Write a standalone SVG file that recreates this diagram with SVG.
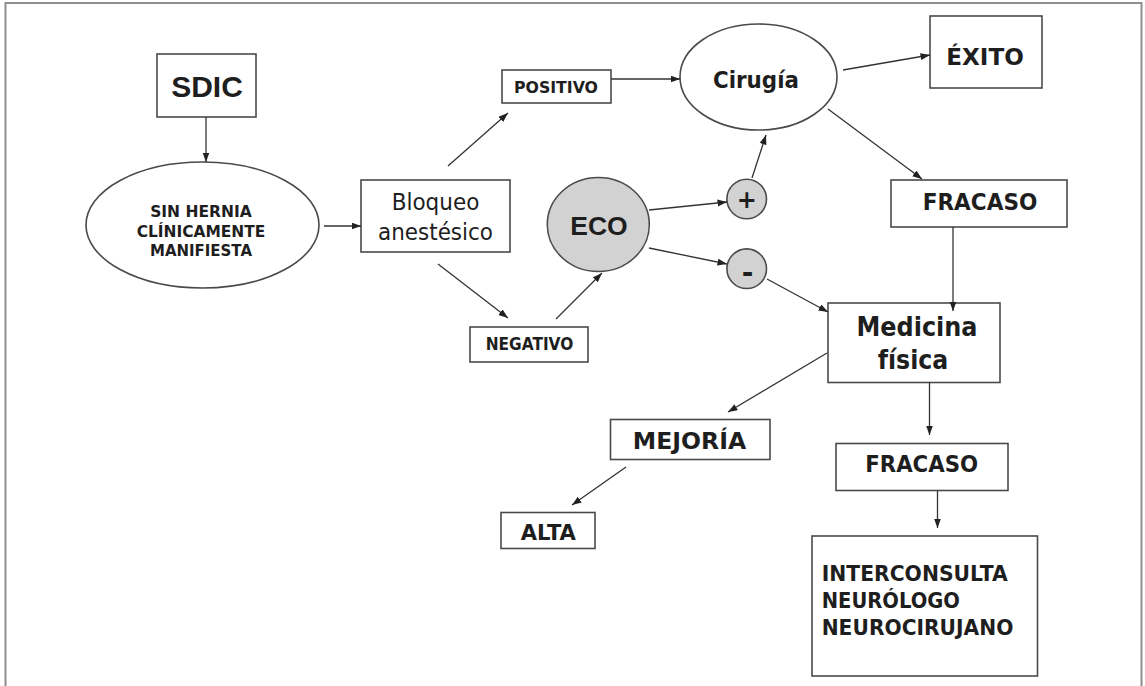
<svg xmlns="http://www.w3.org/2000/svg" width="1145" height="686" viewBox="0 0 1145 686">
<defs>
<style>
.box{fill:#fff;stroke:#4a4a4a;stroke-width:1.6}
.gray{fill:#d2d2d2;stroke:#4a4a4a;stroke-width:1.6}
.con line{stroke:#333;stroke-width:1.3;marker-end:url(#ah)}
.b{font-family:"DejaVu Sans",Verdana,sans-serif;font-weight:bold;fill:#1e1e1e;text-anchor:middle}
.r{font-family:"DejaVu Sans",Verdana,sans-serif;font-weight:normal;fill:#1e1e1e;text-anchor:middle}
.a{font-family:"Liberation Sans",Arial,sans-serif;font-weight:bold;fill:#1e1e1e;text-anchor:middle}
</style>
<marker id="ah" markerUnits="userSpaceOnUse" markerWidth="10" markerHeight="8" refX="9.5" refY="3.5" orient="auto">
<path d="M0,0 L9.5,3.5 L0,7 z" fill="#222"/>
</marker>
</defs>
<rect width="1145" height="686" fill="#fff"/>
<rect x="5.5" y="3" width="1136" height="700" fill="none" stroke="#8e8e8e" stroke-width="2"/>

<g id="sdic">
<rect class="box" x="157" y="54" width="99" height="63"/>
<text class="a" x="207" y="97" font-size="30">SDIC</text>
</g>

<g id="sin-hernia">
<ellipse class="box" cx="202.5" cy="225" rx="116.5" ry="63"/>
<text class="b" x="201" y="217" font-size="15.3" textLength="101.7" lengthAdjust="spacingAndGlyphs">SIN HERNIA</text>
<text class="b" x="201" y="236.5" font-size="15.3" textLength="128.7" lengthAdjust="spacingAndGlyphs">CLÍNICAMENTE</text>
<text class="b" x="201" y="255.5" font-size="15.3" textLength="102" lengthAdjust="spacingAndGlyphs">MANIFIESTA</text>
</g>

<g id="bloqueo">
<rect class="box" x="361" y="180" width="149" height="72"/>
<text class="r" x="435.5" y="210" font-size="22.8" textLength="87.7" lengthAdjust="spacingAndGlyphs">Bloqueo</text>
<text class="r" x="435.5" y="240" font-size="22.8" textLength="115" lengthAdjust="spacingAndGlyphs">anestésico</text>
</g>

<g id="positivo">
<rect class="box" x="502" y="70" width="109" height="33"/>
<text class="b" x="556" y="92.5" font-size="16" textLength="84" lengthAdjust="spacingAndGlyphs">POSITIVO</text>
</g>

<g id="negativo">
<rect class="box" x="470" y="327" width="118" height="35"/>
<text class="b" x="529.5" y="349.5" font-size="17" textLength="87.7" lengthAdjust="spacingAndGlyphs">NEGATIVO</text>
</g>

<g id="eco">
<ellipse class="gray" cx="598.3" cy="224.5" rx="51" ry="47"/>
<text class="a" x="599" y="235" font-size="26.5">ECO</text>
</g>

<g id="mas">
<circle class="gray" cx="746.7" cy="199" r="19.8"/>
<text class="b" x="746.7" y="207.5" font-size="24">+</text>
</g>

<g id="menos">
<circle class="gray" cx="746.7" cy="268.7" r="19.8"/>
<text class="b" x="747.5" y="282" font-size="28">-</text>
</g>

<g id="cirugia">
<ellipse class="box" cx="758.5" cy="77" rx="78.5" ry="53"/>
<text class="b" x="756" y="88" font-size="22.8" textLength="86" lengthAdjust="spacingAndGlyphs">Cirugía</text>
</g>

<g id="exito">
<rect class="box" x="930" y="16" width="112" height="72"/>
<text class="b" x="985" y="65" font-size="23.6" textLength="77.6" lengthAdjust="spacingAndGlyphs">ÉXITO</text>
</g>

<g id="fracaso1">
<rect class="box" x="891" y="180" width="176" height="47"/>
<text class="b" x="980" y="210" font-size="22.8" textLength="114.7" lengthAdjust="spacingAndGlyphs">FRACASO</text>
</g>

<g id="medicina">
<rect class="box" x="828" y="303" width="172" height="79.5"/>
<text class="b" x="917" y="336" font-size="26" textLength="121" lengthAdjust="spacingAndGlyphs">Medicina</text>
<text class="b" x="913" y="368.5" font-size="26" textLength="70.6" lengthAdjust="spacingAndGlyphs">física</text>
</g>

<g id="mejoria">
<rect class="box" x="610.5" y="419.5" width="159.5" height="40"/>
<text class="b" x="689.5" y="449" font-size="23" textLength="113.3" lengthAdjust="spacingAndGlyphs">MEJORÍA</text>
</g>

<g id="alta">
<rect class="box" x="501" y="512.5" width="94" height="36"/>
<text class="b" x="548.3" y="539.5" font-size="20.8" textLength="55.3" lengthAdjust="spacingAndGlyphs">ALTA</text>
</g>

<g id="fracaso2">
<rect class="box" x="836" y="443.5" width="172" height="47"/>
<text class="b" x="921.7" y="472" font-size="22.8" textLength="113" lengthAdjust="spacingAndGlyphs">FRACASO</text>
</g>

<g id="interconsulta">
<rect class="box" x="812" y="536" width="225.5" height="140"/>
<text class="b" x="821.7" y="581" font-size="20.6" style="text-anchor:start" textLength="186" lengthAdjust="spacingAndGlyphs">INTERCONSULTA</text>
<text class="b" x="821.7" y="608" font-size="20.6" style="text-anchor:start" textLength="138.3" lengthAdjust="spacingAndGlyphs">NEURÓLOGO</text>
<text class="b" x="821.7" y="635" font-size="20.6" style="text-anchor:start" textLength="191.7" lengthAdjust="spacingAndGlyphs">NEUROCIRUJANO</text>
</g>

<g class="con">
<line x1="206" y1="117" x2="206" y2="162"/>
<line x1="324" y1="226" x2="361" y2="226"/>
<line x1="448" y1="166" x2="508" y2="113"/>
<line x1="438" y1="264" x2="508" y2="318"/>
<line x1="556" y1="319" x2="602" y2="273"/>
<line x1="611" y1="79" x2="680" y2="79"/>
<line x1="649" y1="210" x2="727" y2="202"/>
<line x1="649" y1="248" x2="727" y2="264"/>
<line x1="752" y1="178" x2="766" y2="135"/>
<line x1="843" y1="70" x2="930" y2="55"/>
<line x1="828" y1="109" x2="922" y2="179"/>
<line x1="953" y1="227" x2="953" y2="311"/>
<line x1="767" y1="279" x2="828" y2="312"/>
<line x1="827" y1="353" x2="728" y2="412"/>
<line x1="929.5" y1="382" x2="929.5" y2="435"/>
<line x1="626" y1="467" x2="572" y2="505"/>
<line x1="937.5" y1="491" x2="937.5" y2="528"/>
</g>
</svg>
